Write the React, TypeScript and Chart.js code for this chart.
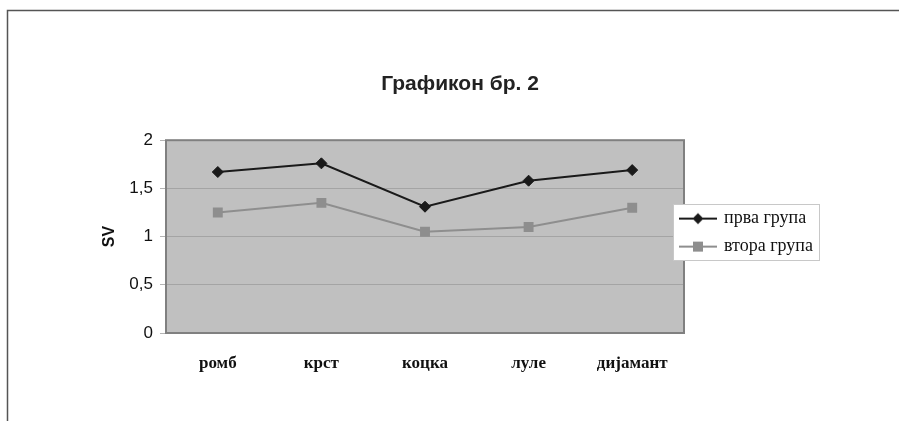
import React, { useEffect, useRef } from 'react';
import { Chart, registerables } from 'chart.js';

Chart.register(...registerables);

const chartTitle = 'Графикон бр. 2';
const yAxisTitle = 'SV';
const categories = ['ромб', 'крст', 'коцка', 'луле', 'дијамант'];
const seriesNames = ['прва група', 'втора група'];
const firstGroup = [1.67, 1.76, 1.31, 1.58, 1.69];
const secondGroup = [1.25, 1.35, 1.05, 1.1, 1.3];
const yMin = 0;
const yMax = 2;
const yStep = 0.5;

const BLACK_SERIES = '#1a1a1a';
const GREY_SERIES = '#8e8e8e';
const LEGEND_PAD = 10;

function makeLegendIcon(color: string, kind: 'diamond' | 'square'): HTMLCanvasElement {
  const c = document.createElement('canvas');
  c.width = 38;
  c.height = 14;
  const ctx = c.getContext('2d')!;
  ctx.strokeStyle = color;
  ctx.lineWidth = 2;
  ctx.beginPath();
  ctx.moveTo(0, 7);
  ctx.lineTo(38, 7);
  ctx.stroke();
  ctx.fillStyle = color;
  ctx.beginPath();
  if (kind === 'diamond') {
    ctx.moveTo(19, 1.5);
    ctx.lineTo(24.5, 7);
    ctx.lineTo(19, 12.5);
    ctx.lineTo(13.5, 7);
    ctx.closePath();
  } else {
    ctx.rect(14, 2, 10, 10);
  }
  ctx.fill();
  return c;
}

const decorPlugin = {
  id: 'decor',
  beforeDraw(chart: any) {
    const { ctx, chartArea: a, width, height } = chart;
    ctx.save();
    ctx.fillStyle = '#ffffff';
    ctx.fillRect(0, 0, width, height);
    // outer frame (top and left edges visible)
    ctx.strokeStyle = '#555555';
    ctx.lineWidth = 1.5;
    ctx.beginPath();
    ctx.moveTo(7.5, height);
    ctx.lineTo(7.5, 10.5);
    ctx.lineTo(width, 10.5);
    ctx.stroke();
    // plot background
    ctx.fillStyle = '#c0c0c0';
    ctx.fillRect(a.left, a.top, a.right - a.left, a.bottom - a.top);
    ctx.restore();
  },
  afterLayout(chart: any) {
    const lg = chart.legend;
    if (!lg) return;
    const dx = -13;
    const dy = -4;
    lg.left += dx;
    lg.right += dx + 60;
    lg.top += dy;
    lg.bottom += dy;
    if (!lg.__wrapped) {
      lg.__wrapped = true;
      const orig = lg.draw;
      lg.draw = function (...args: any[]) {
        const c = chart.ctx;
        const a = chart.chartArea;
        c.save();
        // plot border
        c.strokeStyle = '#808080';
        c.lineWidth = 2;
        c.strokeRect(a.left, a.top, a.right - a.left, a.bottom - a.top);
        // legend frame, computed the same way the legend lays its items out
        const col = (this.columnSizes && this.columnSizes[0]) || null;
        if (col) {
          const itemsLeft = this.left + LEGEND_PAD;
          const itemsTop = (this.top + LEGEND_PAD + this.bottom - col.height) / 2;
          const itemsBottom = itemsTop + col.height - LEGEND_PAD;
          const l = Math.round(itemsLeft - 8);
          const t = Math.round(itemsTop - 6);
          const r = Math.round(itemsLeft + col.width + 6);
          const b = Math.round(itemsBottom + 4);
          c.fillStyle = '#ffffff';
          c.fillRect(l, t, r - l, b - t);
          c.strokeStyle = '#c8c8c8';
          c.lineWidth = 1;
          c.strokeRect(l + 0.5, t + 0.5, r - l, b - t);
        }
        c.restore();
        return orig.apply(this, args);
      };
    }
  },
};

export default function App() {
  const ref = useRef<HTMLCanvasElement | null>(null);

  useEffect(() => {
    if (!ref.current) return;
    const icons = [makeLegendIcon(BLACK_SERIES, 'diamond'), makeLegendIcon(GREY_SERIES, 'square')];
    const chart = new Chart(ref.current, {
      type: 'line',
      data: {
        labels: categories,
        datasets: [
          {
            label: seriesNames[0],
            data: firstGroup,
            borderColor: BLACK_SERIES,
            backgroundColor: BLACK_SERIES,
            borderWidth: 2,
            pointStyle: 'rectRot',
            pointRadius: 5.5,
            pointBorderWidth: 1,
            tension: 0,
          },
          {
            label: seriesNames[1],
            data: secondGroup,
            borderColor: GREY_SERIES,
            backgroundColor: GREY_SERIES,
            borderWidth: 2,
            pointStyle: 'rect',
            pointRadius: 7,
            pointBorderWidth: 0,
            tension: 0,
          },
        ],
      },
      plugins: [decorPlugin],
      options: {
        responsive: false,
        animation: false,
        devicePixelRatio: 1,
        layout: { padding: { left: 96, right: 75, top: 0, bottom: 48 } },
        plugins: {
          tooltip: { enabled: false },
          title: {
            display: true,
            text: chartTitle,
            color: '#222222',
            font: { family: '"Liberation Sans", Arial, sans-serif', size: 21, weight: 'bold' },
            padding: { top: 72, bottom: 43 },
          },
          legend: {
            display: true,
            position: 'right',
            fullSize: false,
            maxWidth: 140,
            labels: {
              usePointStyle: true,
              pointStyleWidth: 34,
              padding: LEGEND_PAD,
              color: '#111111',
              font: { family: '"Liberation Serif", "Times New Roman", serif', size: 18 },
              generateLabels: (ch: any) => {
                const items = Chart.defaults.plugins.legend.labels.generateLabels(ch);
                return items.map((it: any, i: number) => ({ ...it, pointStyle: icons[i] }));
              },
            },
          },
        },
        scales: {
          x: {
            type: 'category',
            offset: true,
            grid: { display: false, drawTicks: false },
            border: { display: false },
            ticks: {
              padding: 20,
              color: '#111111',
              font: { family: '"Liberation Serif", "Times New Roman", serif', size: 17, weight: 'bold' },
              maxRotation: 0,
              autoSkip: false,
            },
            afterFit: (s: any) => {
              s.height = 40;
            },
          },
          y: {
            min: yMin,
            max: yMax,
            ticks: {
              stepSize: yStep,
              padding: 7,
              color: '#111111',
              font: { family: '"Liberation Sans", Arial, sans-serif', size: 17 },
              callback: (v: any) => String(v).replace('.', ','),
            },
            grid: { color: '#a4a4a4', tickColor: '#b4b4b4', tickLength: 6, lineWidth: 1 },
            border: { display: false },
            title: {
              display: true,
              text: yAxisTitle,
              color: '#111111',
              font: { family: '"Liberation Sans", Arial, sans-serif', size: 16, weight: 'bold' },
            },
            afterFit: (s: any) => {
              s.width = 70;
            },
          },
        },
      },
    });
    return () => chart.destroy();
  }, []);

  return (
    <div style={{ position: 'absolute', left: 0, top: 0, width: 899, height: 421 }}>
      <canvas ref={ref} width={899} height={421} />
    </div>
  );
}
